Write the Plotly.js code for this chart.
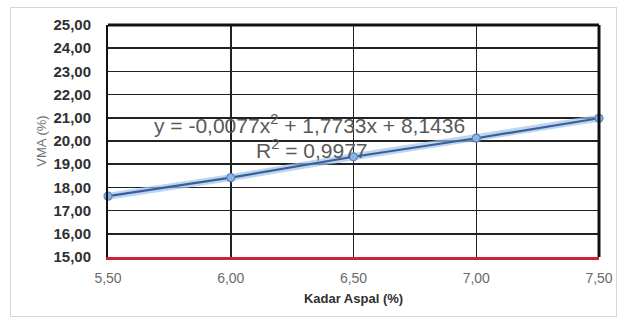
<!DOCTYPE html>
<html>
<head>
<meta charset="utf-8">
<script src="https://cdn.plot.ly/plotly-3.0.1.min.js"></script>
<style>
  html, body { margin: 0; padding: 0; background: #ffffff; }
  #chart { position: absolute; left: 0; top: 0; width: 625px; height: 320px; }
  #frame { position: absolute; left: 10px; top: 7px; width: 605px; height: 308px;
           border: 1px solid #d6d6d6; pointer-events: none; }
</style>
</head>
<body>
<div id="chart"></div>
<div id="frame"></div>
<script>
// Data
const kadarAspal = [5.5, 6.0, 6.5, 7.0, 7.5];
const vma = [17.62, 18.42, 19.32, 20.12, 20.98];

const xTickVals = [5.5, 6.0, 6.5, 7.0, 7.5];
const xTickText = ["5,50", "6,00", "6,50", "7,00", "7,50"];
const yTickVals = [15, 16, 17, 18, 19, 20, 21, 22, 23, 24, 25];
const yTickText = ["15,00", "16,00", "17,00", "18,00", "19,00", "20,00", "21,00", "22,00", "23,00", "24,00", "25,00"];

const equationText = "y = -0,0077x<sup>2</sup> + 1,7733x + 8,1436";
const r2Text = "R<sup>2</sup> = 0,9977";
const xTitle = "<b>Kadar Aspal (%)</b>";
const yTitle = "VMA (%)";

const font = "Liberation Sans, Arial, sans-serif";

const traces = [
  { // glow
    x: kadarAspal, y: vma, type: "scatter", mode: "lines",
    line: { color: "rgba(160,196,232,0.7)", width: 7 },
    hoverinfo: "skip", showlegend: false, cliponaxis: false
  },
  { // line + markers
    x: kadarAspal, y: vma, type: "scatter", mode: "lines+markers",
    line: { color: "#3b5d9c", width: 2.2 },
    marker: { symbol: "circle", size: 8, color: "#8db5e2", line: { color: "#5a82c0", width: 1.2 } },
    showlegend: false, cliponaxis: false
  }
];

const layout = {
  width: 625, height: 320,
  margin: { l: 108, r: 26, t: 25, b: 63 },
  paper_bgcolor: "#ffffff", plot_bgcolor: "#ffffff",
  showlegend: false,
  xaxis: {
    range: [5.5, 7.5], tickvals: xTickVals, ticktext: xTickText,
    showgrid: true, gridcolor: "#222222", gridwidth: 1.5,
    zeroline: false, showline: true, linecolor: "#cc2233", linewidth: 3, mirror: false,
    ticks: "", ticklabelstandoff: 6,
    tickfont: { family: font, size: 14, color: "#6a6a6a" },
    title: { text: xTitle, font: { family: font, size: 13, color: "#303030" }, standoff: 10 }
  },
  yaxis: {
    range: [15, 25], tickvals: yTickVals, ticktext: yTickText,
    showgrid: true, gridcolor: "#222222", gridwidth: 1.5,
    zeroline: false, showline: true, linecolor: "#111111", linewidth: 2, mirror: false,
    ticks: "", ticklabelstandoff: 12,
    tickfont: { family: font, size: 15, color: "#303030", weight: "bold" },
    title: { text: yTitle, font: { family: font, size: 13, color: "#707070" }, standoff: 4 }
  },
  shapes: [
    { type: "line", xref: "paper", yref: "paper", x0: 0, x1: 1, y0: 1, y1: 1,
      line: { color: "#111111", width: 3 } },
    { type: "line", xref: "paper", yref: "paper", x0: 1, x1: 1, y0: 0, y1: 1,
      line: { color: "#111111", width: 3 } }
  ],
  annotations: [
    { xref: "paper", yref: "paper", x: 0.41, y: 0.575, text: equationText, showarrow: false,
      xanchor: "center", yanchor: "middle",
      font: { family: font, size: 21, color: "#595959" } },
    { xref: "paper", yref: "paper", x: 0.415, y: 0.465, text: r2Text, showarrow: false,
      xanchor: "center", yanchor: "middle",
      font: { family: font, size: 21, color: "#595959" } }
  ]
};

Plotly.newPlot("chart", traces, layout, { displayModeBar: false, staticPlot: true });
</script>
</body>
</html>
